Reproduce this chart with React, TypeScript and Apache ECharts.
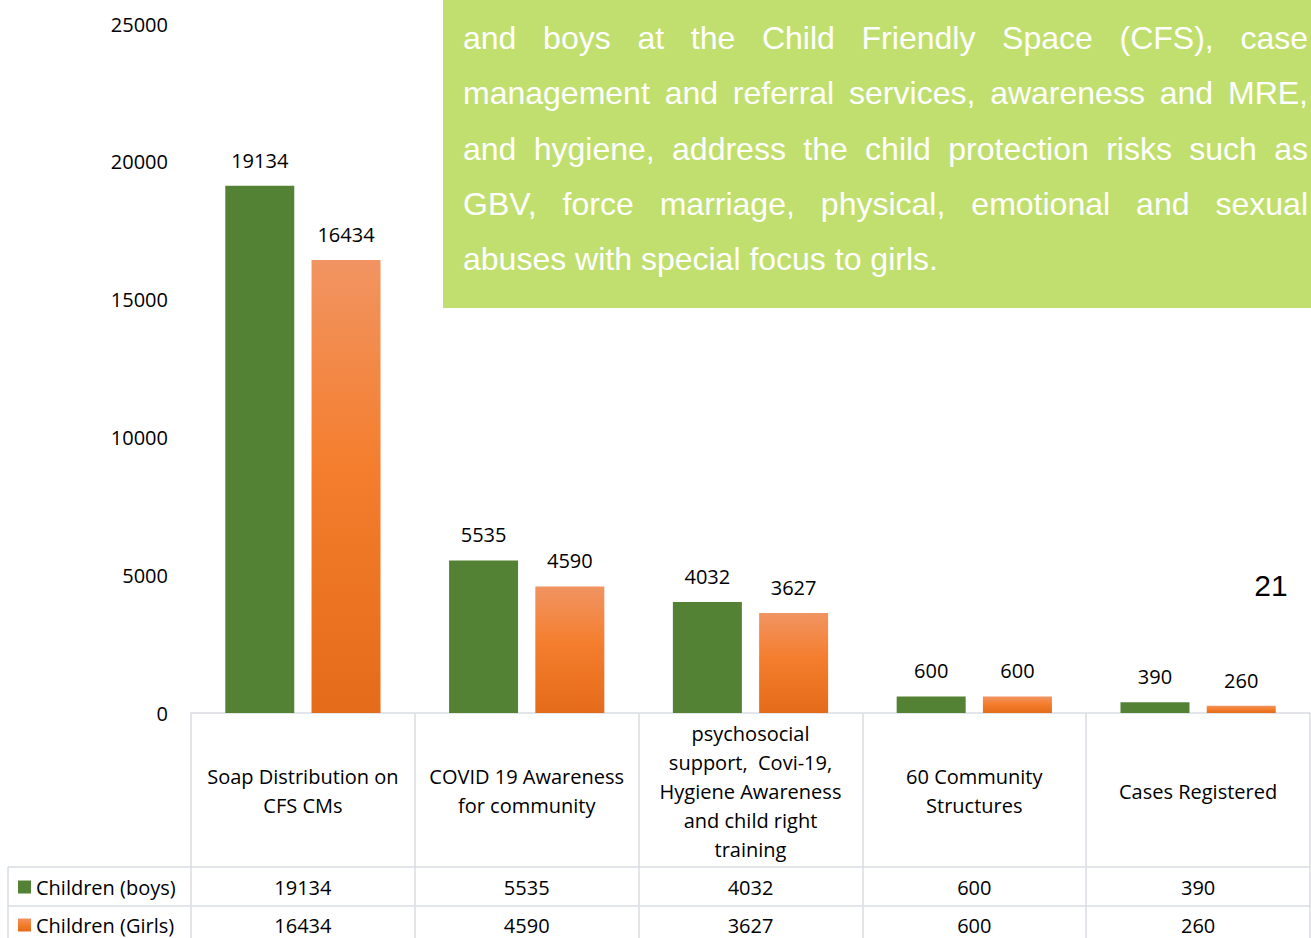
import React, { useEffect, useRef } from "react";
import * as echarts from "echarts";

const categories = [
  "Soap Distribution on\nCFS CMs",
  "COVID 19 Awareness\nfor community",
  "psychosocial\nsupport,  Covi-19,\nHygiene Awareness\nand child right\ntraining",
  "60 Community\nStructures",
  "Cases Registered",
];
const boys = [19134, 5535, 4032, 600, 390];
const girls = [16434, 4590, 3627, 600, 260];
const seriesNames = ["Children (boys)", "Children (Girls)"];
const yMin = 0;
const yMax = 25000;
const yInterval = 5000;
const noteLines = [
  "and boys at the Child Friendly Space (CFS), case",
  "management and referral services, awareness and MRE,",
  "and hygiene, address the child protection risks such as",
  "GBV, force marriage, physical, emotional and sexual",
  "abuses with special focus to girls.",
];
const pageNumber = "21";

const W = 1311;
const H = 938;
const GRID_LEFT = 191;
const GRID_RIGHT = 1;
const GRID_TOP = 24;
const GRID_BOTTOM = 225;
const FONT = "'Open Sans'";
const FS = 20;
const LINE_COLOR = "#D9DCE3";
const GREEN = "#548235";
const orangeGradient = () =>
  new echarts.graphic.LinearGradient(0, 0, 0, 1, [
    { offset: 0, color: "#F19462" },
    { offset: 0.45, color: "#F47E2E" },
    { offset: 1, color: "#E46B19" },
  ]);

export default function App() {
  const ref = useRef<HTMLDivElement>(null);
  useEffect(() => {
    if (!ref.current) return;
    const chart = echarts.init(ref.current, null, { renderer: "svg" });
    chart.setOption({
      animation: false,
      grid: { left: GRID_LEFT, right: GRID_RIGHT, top: GRID_TOP, bottom: GRID_BOTTOM },
      xAxis: {
        type: "category",
        data: categories,
        axisLine: { show: true, lineStyle: { color: LINE_COLOR, width: 1.5 } },
        axisTick: { show: true, length: GRID_BOTTOM, lineStyle: { color: LINE_COLOR, width: 1.5 } },
        axisLabel: {
          interval: 0,
          margin: 78,
          verticalAlign: "middle",
          lineHeight: 29,
          fontSize: FS,
          fontFamily: FONT,
          color: "#000",
        },
      },
      yAxis: {
        type: "value",
        min: yMin,
        max: yMax,
        interval: yInterval,
        splitLine: { show: false },
        axisLine: { show: false },
        axisTick: { show: false },
        axisLabel: { margin: 23, fontSize: FS, fontFamily: FONT, color: "#000", formatter: (v: number) => String(v) },
      },
      series: [
        {
          name: seriesNames[0],
          type: "bar",
          data: boys,
          barWidth: 69,
          barGap: "25%",
          itemStyle: { color: GREEN },
          label: { show: true, position: "top", distance: 15.5, fontSize: FS, fontFamily: FONT, color: "#000" },
        },
        {
          name: seriesNames[1],
          type: "bar",
          data: girls,
          barWidth: 69,
          barGap: "25%",
          itemStyle: { color: orangeGradient() },
          label: { show: true, position: "top", distance: 15.5, fontSize: FS, fontFamily: FONT, color: "#000" },
        },
      ],
    });

    const rowY = [887, 925];
    const graphics: any[] = [];
    graphics.push({ type: "line", shape: { x1: 8, y1: 867, x2: W - GRID_RIGHT, y2: 867 }, style: { stroke: LINE_COLOR, lineWidth: 1.5 } });
    graphics.push({ type: "line", shape: { x1: 8, y1: 906, x2: W - GRID_RIGHT, y2: 906 }, style: { stroke: LINE_COLOR, lineWidth: 1.5 } });
    graphics.push({ type: "line", shape: { x1: 8, y1: 867, x2: 8, y2: H }, style: { stroke: LINE_COLOR, lineWidth: 1.5 } });
    const rows = [boys, girls];
    rows.forEach((vals, r) => {
      graphics.push({
        type: "rect",
        shape: { x: 18, y: rowY[r] - 6.5, width: 13, height: 13 },
        style: { fill: r === 0 ? GREEN : orangeGradient() },
      });
      graphics.push({
        type: "text",
        x: 36,
        y: rowY[r],
        style: { text: seriesNames[r], font: `${FS}px ${FONT}`, fill: "#000", textAlign: "left", textVerticalAlign: "middle" },
      });
      vals.forEach((v, i) => {
        const px = chart.convertToPixel({ xAxisIndex: 0 }, i) as number;
        graphics.push({
          type: "text",
          x: px,
          y: rowY[r],
          style: { text: String(v), font: `${FS}px ${FONT}`, fill: "#000", textAlign: "center", textVerticalAlign: "middle" },
        });
      });
    });

    const boxX = 443;
    const boxW = W - boxX;
    graphics.push({ type: "rect", shape: { x: boxX, y: 0, width: boxW, height: 308 }, style: { fill: "#C1DF6F" } });
    const noteFont = "32px 'Liberation Sans', Arial, sans-serif";
    const canvas = document.createElement("canvas");
    const ctx = canvas.getContext("2d")!;
    ctx.font = noteFont;
    const textLeft = 463;
    const textRight = 1308;
    const lineStart = 38;
    const lineStep = 55.25;
    noteLines.forEach((line, li) => {
      const y = lineStart + li * lineStep;
      if (li === noteLines.length - 1) {
        graphics.push({
          type: "text",
          x: textLeft,
          y,
          style: { text: line, font: noteFont, fill: "#fff", textAlign: "left", textVerticalAlign: "middle" },
        });
        return;
      }
      const words = line.split(" ");
      const widths = words.map((w) => ctx.measureText(w).width);
      const total = widths.reduce((a, b) => a + b, 0);
      const gap = (textRight - textLeft - total) / (words.length - 1);
      let x = textLeft;
      words.forEach((w, wi) => {
        graphics.push({
          type: "text",
          x,
          y,
          style: { text: w, font: noteFont, fill: "#fff", textAlign: "left", textVerticalAlign: "middle" },
        });
        x += widths[wi] + gap;
      });
    });

    graphics.push({
      type: "text",
      x: 1271,
      y: 585,
      style: { text: pageNumber, font: "30px 'Liberation Sans', Arial, sans-serif", fill: "#000", textAlign: "center", textVerticalAlign: "middle" },
    });

    chart.setOption({ graphic: graphics });
    return () => chart.dispose();
  }, []);
  return (
    <div
      ref={ref}
      style={{ position: "fixed", left: 0, top: 0, width: W, height: H, background: "#fff" }}
    />
  );
}
